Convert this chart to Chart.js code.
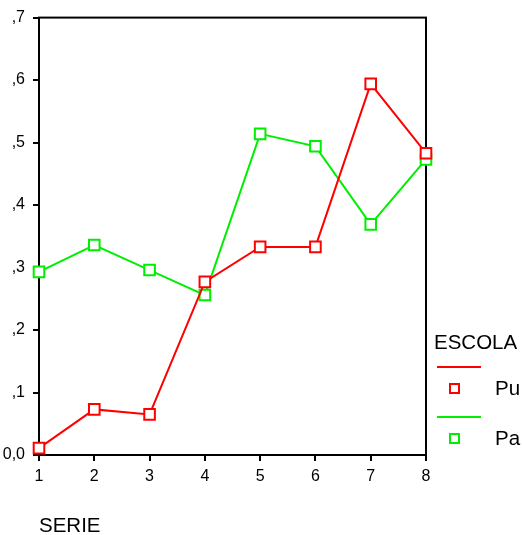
<!DOCTYPE html>
<html>
<head>
<meta charset="utf-8">
<script src="https://cdn.jsdelivr.net/npm/chart.js@4/dist/chart.umd.min.js"></script>
<style>
  html, body { margin: 0; padding: 0; background: #fff; }
  #wrap { width: 522px; height: 535px; }
</style>
</head>
<body>
<div id="wrap"><canvas id="chart"></canvas></div>
<script>
// data
const series = ['1', '2', '3', '4', '5', '6', '7', '8'];
const puValues = [0.011, 0.073, 0.065, 0.277, 0.333, 0.333, 0.594, 0.483];
const paValues = [0.293, 0.336, 0.296, 0.256, 0.514, 0.494, 0.369, 0.473];
const legendTitle = 'ESCOLA';
const xTitle = 'SERIE';

const FONT = '"Liberation Sans", Arial, sans-serif';

// frame around the plot (top and right sides too)
const framePlugin = {
  id: 'frame',
  beforeDatasetsDraw(chart) {
    const { ctx, chartArea: a } = chart;
    ctx.save();
    ctx.strokeStyle = '#000';
    ctx.lineWidth = 2;
    ctx.strokeRect(a.left, a.top, a.right - a.left, a.bottom - a.top);
    ctx.restore();
  }
};

// legend: line sample above, marker below, label at the right
const legendPlugin = {
  id: 'spssLegend',
  afterDraw(chart) {
    const ctx = chart.ctx;
    ctx.save();
    ctx.font = '20.5px ' + FONT;
    ctx.fillStyle = '#000';
    ctx.textBaseline = 'middle';
    ctx.textAlign = 'left';
    ctx.fillText(legendTitle, 434, 343);
    chart.data.datasets.forEach((ds, i) => {
      const y0 = 367 + i * 50;
      ctx.strokeStyle = ds.borderColor;
      ctx.lineWidth = 2;
      ctx.beginPath();
      ctx.moveTo(437, y0);
      ctx.lineTo(481, y0);
      ctx.stroke();
      ctx.fillStyle = '#fff';
      ctx.fillRect(450, y0 + 17, 9, 9);
      ctx.strokeRect(450, y0 + 17, 9, 9);
      ctx.fillStyle = '#000';
      ctx.fillText(ds.label, 495, y0 + 22);
    });
    ctx.restore();
  }
};

new Chart(document.getElementById('chart'), {
  type: 'line',
  data: {
    labels: series,
    datasets: [
      {
        label: 'Pu',
        data: puValues,
        borderColor: '#ff0000',
        backgroundColor: '#ffffff',
        borderWidth: 2,
        pointStyle: 'rect',
        pointRadius: 7.5,
        pointBorderWidth: 2,
        tension: 0,
        clip: false
      },
      {
        label: 'Pa',
        data: paValues,
        borderColor: '#00ee00',
        backgroundColor: '#ffffff',
        borderWidth: 2,
        pointStyle: 'rect',
        pointRadius: 7.5,
        pointBorderWidth: 2,
        tension: 0,
        clip: false
      }
    ]
  },
  options: {
    responsive: true,
    maintainAspectRatio: false,
    animation: false,
    events: [],
    layout: { padding: { top: 15, right: 96, left: 0, bottom: 0 } },
    plugins: {
      legend: { display: false },
      tooltip: { enabled: false }
    },
    scales: {
      x: {
        offset: false,
        afterFit: (scale) => { scale.height = 80; },
        grid: { drawOnChartArea: false, drawTicks: true, tickLength: 6, color: '#000', lineWidth: 2 },
        border: { display: true, color: '#000', width: 2 },
        ticks: { color: '#000', padding: 6, font: { family: FONT, size: 16 }, maxRotation: 0 },
        title: {
          display: true,
          text: xTitle,
          align: 'start',
          color: '#000',
          padding: 0,
          font: { family: FONT, size: 20.5, lineHeight: 0.8 }
        }
      },
      y: {
        min: 0,
        max: 0.7,
        afterFit: (scale) => { scale.width = 39; },
        grid: { drawOnChartArea: false, drawTicks: true, tickLength: 6, color: '#000', lineWidth: 2 },
        border: { display: true, color: '#000', width: 2 },
        ticks: {
          stepSize: 0.1,
          color: '#000',
          padding: 8,
          font: { family: FONT, size: 16 },
          callback: (v) => {
            const t = Math.round(v * 10);
            return t === 0 ? '0,0' : ',' + t;
          }
        }
      }
    }
  },
  plugins: [framePlugin, legendPlugin]
});
</script>
</body>
</html>
